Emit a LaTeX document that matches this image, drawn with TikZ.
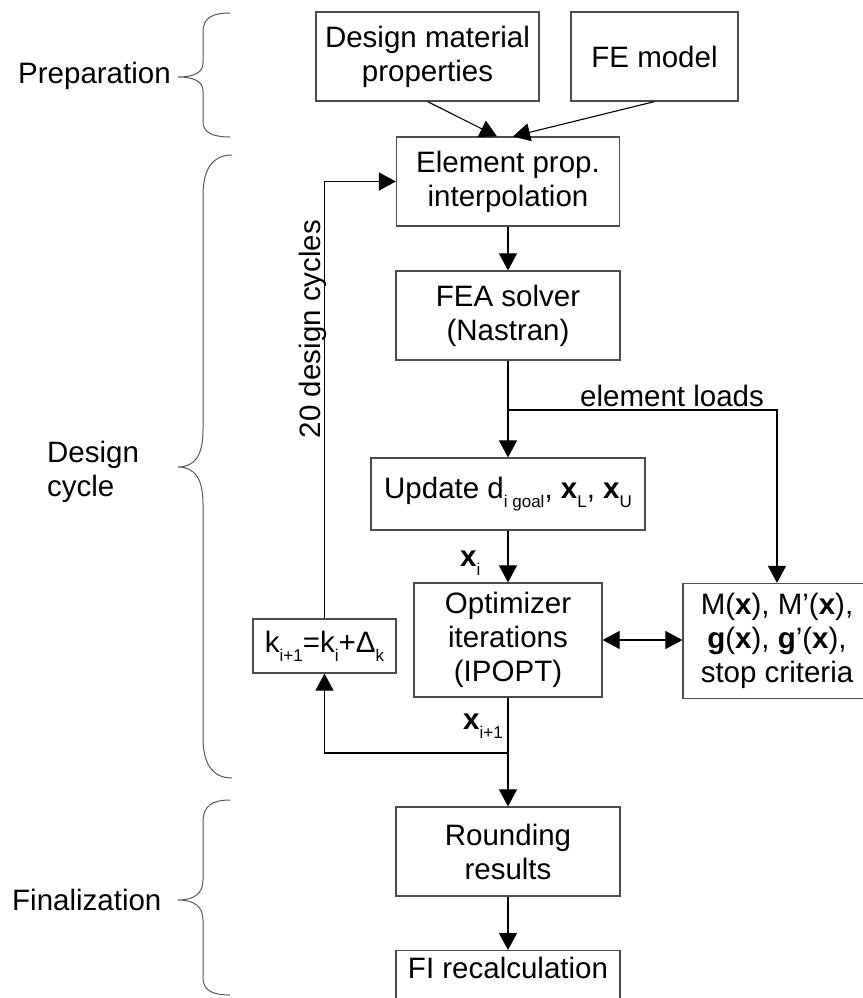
\documentclass[tikz,border=0pt]{standalone}
\usepackage{fontspec}
\setmainfont{Liberation Sans}
\usetikzlibrary{arrows.meta}
% lowered small index, as used in k_{i+1}, x_L, d_{i goal}
\newcommand\lsub[1]{\raisebox{-0.31em}{\fontsize{17}{17}\selectfont #1}}

\begin{document}
\begin{tikzpicture}[x=1pt,y=-1pt,
  every node/.style={font=\fontsize{29.5}{34}\selectfont, inner sep=0pt},
  box/.style={draw=black!70, line width=1.2pt, align=center},
  link/.style={draw=black, line width=1.1pt},
  arrowlink/.style={-{Triangle[length=17pt,width=18pt]}},
  bothlink/.style={{Triangle[length=17pt,width=18pt]}-{Triangle[length=17pt,width=18pt]}},
  brc/.style={draw=black!65, line width=1pt}]

\useasboundingbox (0,0) rectangle (862,998);

% process boxes
\node[box, minimum width=223pt, minimum height=89pt] (dmp) at (427.5,56.5) {Design material\\properties};
\node[box, minimum width=167pt, minimum height=89pt] (fem) at (654.5,56.5) {FE model};
\node[box, minimum width=223pt, minimum height=89pt] (elem) at (508,181.5) {Element prop.\\interpolation};
\node[box, minimum width=224pt, minimum height=89pt] (fea) at (508,315.5) {FEA solver\\(Nastran)};
\node[box, minimum width=274pt, minimum height=72pt] (upd) at (508,494) {Update d\lsub{i goal}, \textbf{x}\lsub{L}, \textbf{x}\lsub{U}};
\node[box, minimum width=188pt, minimum height=114pt] (opt) at (508,640) {Optimizer\\iterations\\(IPOPT)};
\node[box, minimum width=188pt, minimum height=115pt] (mbox) at (777,641) {M(\textbf{x}), M’(\textbf{x}),\\\textbf{g}(\textbf{x}), \textbf{g}’(\textbf{x}),\\stop criteria};
\node[box, minimum width=143pt, minimum height=54pt] (kbox) at (324.5,646) {k\lsub{i+1}=k\lsub{i}+Δ\lsub{k}};
\node[box, minimum width=224pt, minimum height=89pt] (rnd) at (508,851.5) {Rounding\\results};
\node[box, minimum width=224pt, text height=28pt, text depth=61pt, anchor=north] (fi) at (508,950) {FI recalculation};

% connectors
\draw[link, arrowlink] (dmp.south) -- ([xshift=-11pt]elem.north);
\draw[link, arrowlink] (fem.south) -- ([xshift=5pt]elem.north);
\draw[link, arrowlink] (elem.south) -- (fea.north);
\draw[link, arrowlink] (fea.south) -- (upd.north);
\coordinate (split) at (508,410);
\draw[link, arrowlink] (split) -| (mbox.north);
\node[anchor=base west] (loads) at (580,406) {element loads};
\draw[link, arrowlink] (upd.south) -- (opt.north);
\node[anchor=base west] (xi) at (460,566) {\textbf{x}\lsub{i}};
\draw[link, bothlink] (opt.east) -- (opt.east -| mbox.west);
\draw[link, arrowlink] (opt.south) -- (rnd.north);
\coordinate (ret) at (508,753);
\draw[link, arrowlink] (ret) -| (kbox.south);
\draw[link, arrowlink] (kbox.north) |- (elem.west);
\node[anchor=base west] (xnext) at (463,729) {\textbf{x}\lsub{i+1}};
\node[rotate=90, anchor=base] (cycles) at (320,329) {20 design cycles};
\draw[link, arrowlink] (rnd.south) -- (fi.north);

% phase labels and braces
\node[anchor=base west] (prep) at (18,83) {Preparation};
\node[anchor=north west, align=left] (dcyc) at (47,440.5) {Design\\cycle};
\node[anchor=base west] (fin) at (12,910) {Finalization};

\draw[brc] (230,13) .. controls (212,13) and (203,18) .. (203,32) -- (203,63)
  .. controls (203,72) and (195,77) .. (178,77)
  .. controls (195,77) and (203,82) .. (203,91) -- (203,122)
  .. controls (203,132) and (212,137) .. (230,137);
\draw[brc] (232,155) .. controls (212,155) and (203,170) .. (203,195) -- (203,430)
  .. controls (203,455) and (195,467) .. (178,467)
  .. controls (195,467) and (203,479) .. (203,504) -- (203,738)
  .. controls (203,763) and (212,778) .. (232,778);
\draw[brc] (230,800) .. controls (212,800) and (203,806) .. (203,822) -- (203,880)
  .. controls (203,893) and (195,900) .. (178,900)
  .. controls (195,900) and (203,907) .. (203,920) -- (203,978)
  .. controls (203,990) and (212,995) .. (230,995);
\end{tikzpicture}
\end{document}
